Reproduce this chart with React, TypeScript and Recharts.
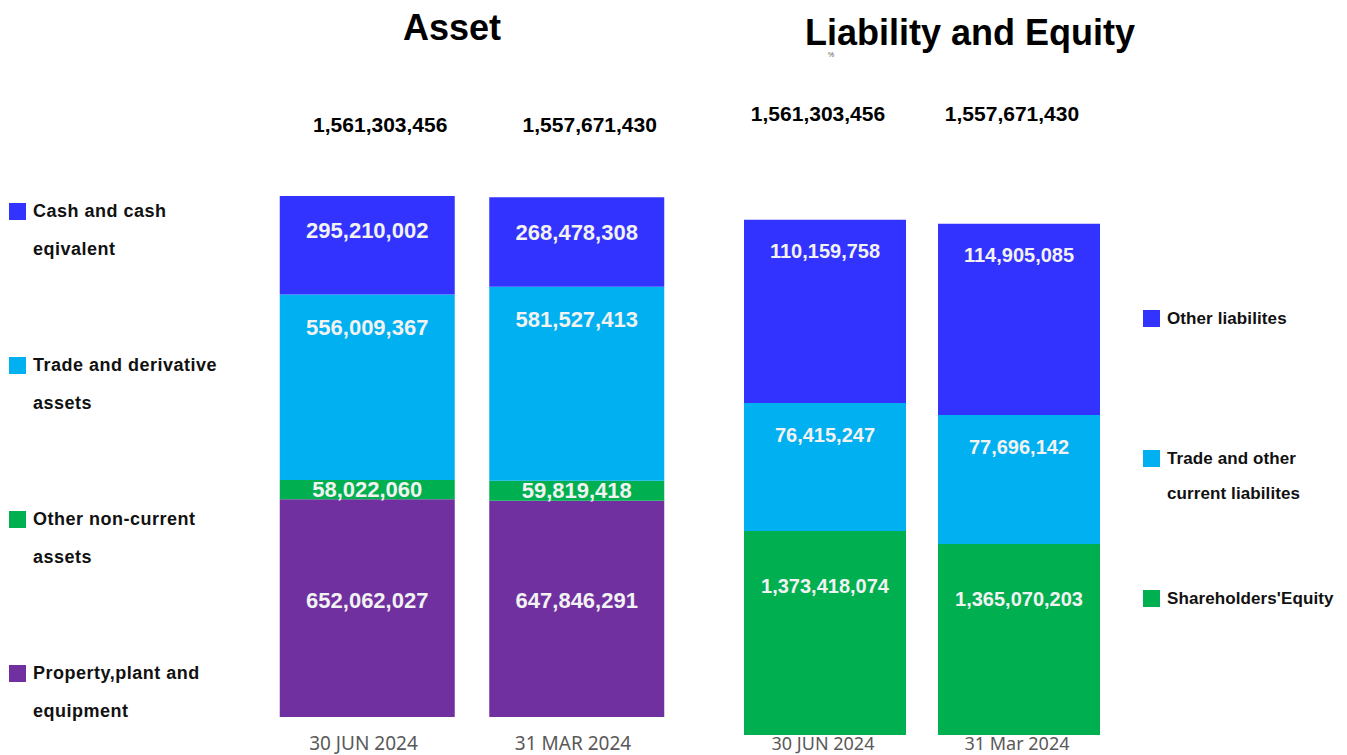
import { Bar, BarChart, LabelList, XAxis, YAxis } from 'recharts';

const ARIAL = '"Liberation Sans", Arial, sans-serif';

// Asset side
const assetPeriods = ['30 JUN 2024', '31 MAR 2024'];
const assetTotals = [1561303456, 1557671430];
const propertyPlant = [652062027, 647846291];
const otherNonCurrent = [58022060, 59819418];
const tradeDerivative = [556009367, 581527413];
const cashEquivalent = [295210002, 268478308];

// Liability and equity side (printed values)
const liabPeriods = ['30 JUN 2024', '31 Mar 2024'];
const liabTotals = [1561303456, 1557671430];
const equityValues = [1373418074, 1365070203];
const tradeOtherValues = [76415247, 77696142];
const otherLiabValues = [110159758, 114905085];
// the source draws these segments at lengths that don't follow the printed
// numbers, so the drawn lengths are read off the bars (same scale as totals)
const equityDrawn = [618000000, 579000000];
const tradeOtherDrawn = [388000000, 391000000];
const otherLiabDrawn = [555000000, 579000000];

const assetLegend = ['Cash and cash\neqivalent', 'Trade and derivative\nassets', 'Other non-current\nassets', 'Property,plant and\nequipment'];
const liabLegend = ['Other liabilites', 'Trade and other\ncurrent liabilites', "Shareholders'Equity"];

const BLUE = '#3333FF';
const CYAN = '#00B0F0';
const GREEN = '#00B050';
const PURPLE = '#7030A0';

const assetColors = [BLUE, CYAN, GREEN, PURPLE];
const liabColors = [BLUE, CYAN, GREEN];

const assetData = assetPeriods.map((period, i) => ({
  period,
  total: assetTotals[i],
  ppe: propertyPlant[i],
  onc: otherNonCurrent[i],
  trade: tradeDerivative[i],
  cash: cashEquivalent[i],
}));

const liabData = liabPeriods.map((period, i) => ({
  period,
  total: liabTotals[i],
  equity: equityDrawn[i],
  equityLabel: equityValues[i],
  tradeOther: tradeOtherDrawn[i],
  tradeOtherLabel: tradeOtherValues[i],
  otherLiab: otherLiabDrawn[i],
  otherLiabLabel: otherLiabValues[i],
}));

const fmt = (v: number) => Number(v).toLocaleString('en-US');

function inBarLabel(fontSize: number, mode: 'top' | 'mid', dy: number) {
  return (props: any) => {
    const box = props.viewBox ?? props;
    const top = Math.min(box.y, box.y + box.height);
    const h = Math.abs(box.height);
    const cy = mode === 'top' ? top + dy : top + h / 2 + dy;
    return (
      <text x={box.x + box.width / 2} y={cy} textAnchor="middle" dominantBaseline="central"
        fill="#F2F2F2" fontSize={fontSize} fontWeight={700} fontFamily={ARIAL}>
        {fmt(props.value)}
      </text>
    );
  };
}

function totalLabel(y: number, dx: number) {
  return (props: any) => {
    const box = props.viewBox ?? props;
    return (
      <text x={box.x + box.width / 2 + dx} y={y} textAnchor="middle" dominantBaseline="central"
        fill="#000" fontSize={21} fontWeight={700} fontFamily={ARIAL}>
        {fmt(props.value)}
      </text>
    );
  };
}

function periodTick(dy: number, dx: number, size: number) {
  return (props: any) => (
    <text x={props.x + dx} y={props.y + dy} textAnchor="middle" dominantBaseline="central"
      fill="#595959" fontSize={size} fontFamily='"Noto Sans", sans-serif'>
      {props.payload.value}
    </text>
  );
}

function Legend({ names, colors, left, firstY, step, lineH, fontSize, spacing }: any) {
  return (
    <>
      {names.map((name: string, i: number) => {
        const cy = firstY + i * step;
        return (
          <div key={name} style={{ position: 'absolute', left, top: cy - lineH / 2 }}>
            <div style={{ position: 'absolute', left: 0, top: lineH / 2 - 8.5, width: 17, height: 17, background: colors[i] }} />
            <div style={{ position: 'absolute', left: 24, top: 0, whiteSpace: 'pre', lineHeight: lineH + 'px',
              fontFamily: ARIAL, fontWeight: 700, fontSize, letterSpacing: spacing, color: '#111' }}>
              {name}
            </div>
          </div>
        );
      })}
    </>
  );
}

function Title({ text, cx, cy }: { text: string; cx: number; cy: number }) {
  return (
    <div style={{ position: 'absolute', left: cx - 250, width: 500, top: cy - 17, lineHeight: '34px',
      textAlign: 'center', fontFamily: ARIAL, fontWeight: 700, fontSize: 36, color: '#000' }}>
      {text}
    </div>
  );
}

export default function App() {
  return (
    <div style={{ position: 'absolute', left: 0, top: 0, width: 1347, height: 755, background: '#fff', overflow: 'hidden' }}>
      <Title text="Asset" cx={452} cy={28} />
      <Title text="Liability and Equity" cx={970} cy={33} />
      <span style={{ position: 'absolute', left: 828, top: 51, fontSize: 7, lineHeight: '7px', color: '#555', fontFamily: ARIAL }}>%</span>

      <Legend names={assetLegend} colors={assetColors} left={9} firstY={211} step={154} lineH={38} fontSize={18} spacing={0.5} />
      <Legend names={liabLegend} colors={liabColors} left={1143} firstY={318} step={140} lineH={35} fontSize={17} spacing={0.1} />

      <div style={{ position: 'absolute', left: 240, top: 0 }}>
        <BarChart width={470} height={755} data={assetData}
          margin={{ top: 183, right: 28.25, left: 22.75, bottom: 8 }}>
          <XAxis dataKey="period" axisLine={false} tickLine={false} tickSize={0} tickMargin={0}
            height={30} interval={0} tick={periodTick(26, -4, 19)} />
          <YAxis hide domain={[0, 1600000000]} />
          <Bar dataKey="ppe" stackId="a" fill={PURPLE} barSize={175} isAnimationActive={false}>
            <LabelList dataKey="ppe" content={inBarLabel(22, 'mid', -8)} />
          </Bar>
          <Bar dataKey="onc" stackId="a" fill={GREEN} barSize={175} isAnimationActive={false}>
            <LabelList dataKey="onc" content={inBarLabel(22, 'mid', 0)} />
          </Bar>
          <Bar dataKey="trade" stackId="a" fill={CYAN} barSize={175} isAnimationActive={false}>
            <LabelList dataKey="trade" content={inBarLabel(22, 'top', 33)} />
          </Bar>
          <Bar dataKey="cash" stackId="a" fill={BLUE} barSize={175} isAnimationActive={false}>
            <LabelList dataKey="cash" content={inBarLabel(22, 'top', 35)} />
            <LabelList dataKey="total" content={totalLabel(124, 13)} />
          </Bar>
        </BarChart>
      </div>

      <div style={{ position: 'absolute', left: 710, top: 0 }}>
        <BarChart width={420} height={755} data={liabData}
          margin={{ top: 207, right: 14, left: 18, bottom: 0 }}>
          <XAxis dataKey="period" axisLine={false} tickLine={false} tickSize={0} tickMargin={0}
            height={20} interval={0} tick={periodTick(8, -2, 18)} />
          <YAxis hide domain={[0, 1600000000]} />
          <Bar dataKey="equity" stackId="b" fill={GREEN} barSize={162} isAnimationActive={false}>
            <LabelList dataKey="equityLabel" content={inBarLabel(20, 'top', 55)} />
          </Bar>
          <Bar dataKey="tradeOther" stackId="b" fill={CYAN} barSize={162} isAnimationActive={false}>
            <LabelList dataKey="tradeOtherLabel" content={inBarLabel(20, 'top', 32)} />
          </Bar>
          <Bar dataKey="otherLiab" stackId="b" fill={BLUE} barSize={162} isAnimationActive={false}>
            <LabelList dataKey="otherLiabLabel" content={inBarLabel(20, 'top', 31)} />
            <LabelList dataKey="total" content={totalLabel(113, -7)} />
          </Bar>
        </BarChart>
      </div>
    </div>
  );
}
